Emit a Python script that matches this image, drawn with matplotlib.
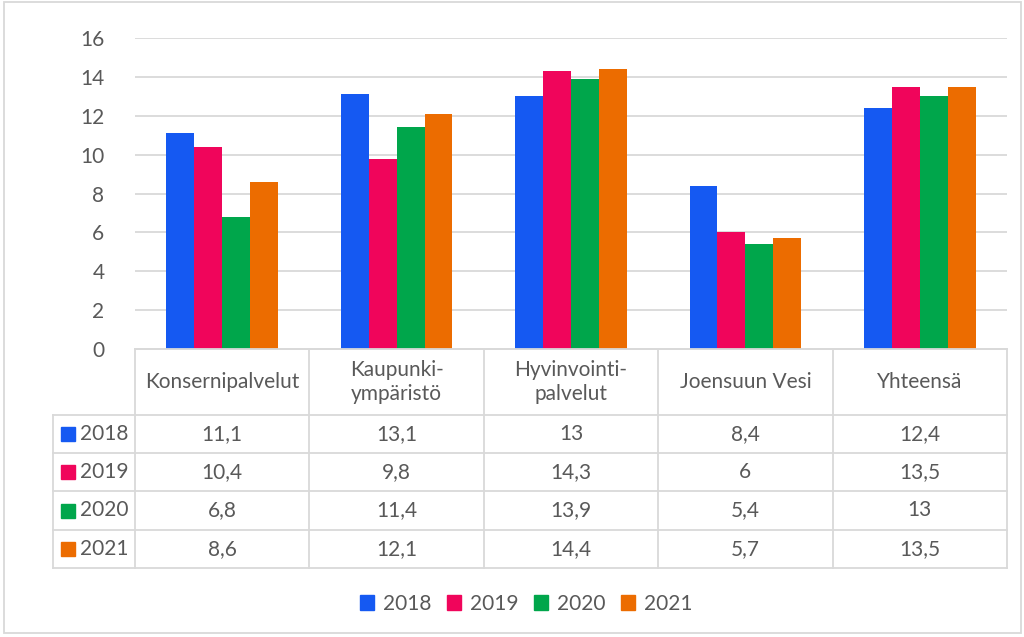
import numpy as np
import matplotlib
matplotlib.use('Agg')
import matplotlib.pyplot as plt
from matplotlib.patches import Rectangle, Patch

# data
categories = ['Konsernipalvelut', 'Kaupunki-\nympäristö', 'Hyvinvointi-\npalvelut',
              'Joensuun Vesi', 'Yhteensä']
years = ['2018', '2019', '2020', '2021']
v2018 = [11.1, 13.1, 13, 8.4, 12.4]
v2019 = [10.4, 9.8, 14.3, 6, 13.5]
v2020 = [6.8, 11.4, 13.9, 5.4, 13]
v2021 = [8.6, 12.1, 14.4, 5.7, 13.5]
series = [v2018, v2019, v2020, v2021]
yticks = [0, 2, 4, 6, 8, 10, 12, 14, 16]

C = ('#1559F2', '#F0055B', '#00A64B', '#EC6C00')
TXT = '#595959'
GRID = '#D9D9D9'

plt.rcParams['font.family'] = ['Lato', 'DejaVu Sans']
FS = 15

W, H = 1024, 637
fig = plt.figure(figsize=(W / 100, H / 100), dpi=100)

def fx(px):
    return px / W

def fy(py):
    return 1 - py / H

# plot area in pixels
x0, x1 = 135, 1007
ytop, ybot = 38, 349
ax = fig.add_axes([fx(x0), fy(ybot), fx(x1 - x0), (ybot - ytop) / H])

n = len(categories)
x = np.arange(n)
bw = 0.16
for i, s in enumerate(series):
    ax.bar(x + (i - 1.5) * bw, s, width=bw, color=C[i], zorder=3)

ax.set_xlim(-0.5, n - 0.5)
ax.set_ylim(0, 16)
ax.set_yticks(yticks)
ax.set_yticklabels([str(t) for t in yticks], fontsize=FS, color=TXT)
ax.set_xticks([])
ax.tick_params(axis='y', length=0, pad=22)
ax.grid(axis='y', color=GRID, linewidth=1.3, zorder=0)
for sp in ['top', 'right', 'left']:
    ax.spines[sp].set_visible(False)
ax.spines['bottom'].set_color(GRID)
ax.spines['bottom'].set_linewidth(1.3)

# data table drawn in pixel space
tab = fig.add_axes([0, 0, 1, 1])
tab.set_xlim(0, W)
tab.set_ylim(H, 0)
tab.axis('off')

colw = (x1 - x0) / n
cedges = [x0 + k * colw for k in range(n + 1)]
xl = 53
rows = [349, 415, 453, 491, 530, 568]
lw = 1.3
# horizontal lines
tab.plot([x0, x1], [rows[0], rows[0]], color=GRID, lw=lw)
for r in rows[1:]:
    tab.plot([xl, x1], [r, r], color=GRID, lw=lw)
# vertical lines
tab.plot([xl, xl], [rows[1], rows[-1]], color=GRID, lw=lw)
for c in cedges:
    tab.plot([c, c], [rows[0], rows[-1]], color=GRID, lw=lw)

for j, cat in enumerate(categories):
    cx = (cedges[j] + cedges[j + 1]) / 2
    tab.text(cx, (rows[0] + rows[1]) / 2, cat, ha='center', va='center',
             fontsize=FS, color=TXT, linespacing=1.25)
    for i, s in enumerate(series):
        cy = (rows[i + 1] + rows[i + 2]) / 2
        tab.text(cx, cy, ('%g' % s[j]).replace('.', ','), ha='center', va='center',
                 fontsize=FS, color=TXT)

for i, yr in enumerate(years):
    cy = (rows[i + 1] + rows[i + 2]) / 2
    tab.add_patch(Rectangle((61, cy - 7), 14, 14, color=C[i]))
    tab.text(80, cy, yr, ha='left', va='center', fontsize=FS, color=TXT)

# chart border
tab.add_patch(Rectangle((4, 2), 1017, 631, fill=False, edgecolor=GRID, lw=1.3))

handles = [Patch(color=C[i], label=years[i]) for i in range(len(years))]
fig.legend(handles=handles, loc='center', bbox_to_anchor=(fx(526), fy(604)), ncol=4,
           frameon=False, fontsize=FS, labelcolor=TXT, handlelength=0.7,
           handleheight=0.7, handletextpad=0.4, columnspacing=0.75)

fig.savefig('out.png', dpi=100)
